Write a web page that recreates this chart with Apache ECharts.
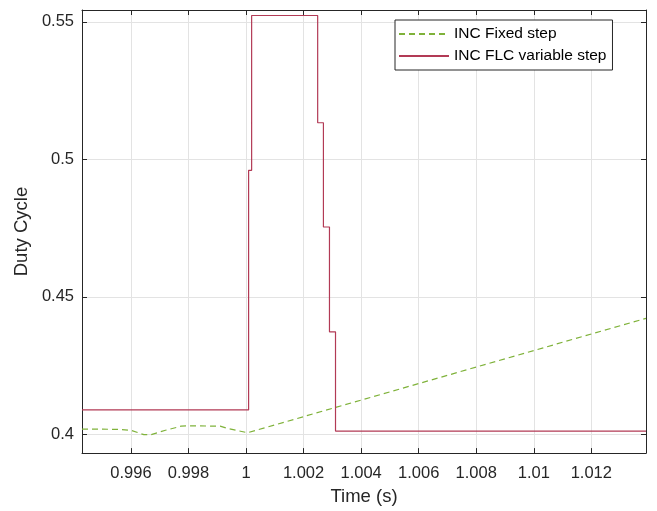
<!DOCTYPE html>
<html>
<head>
<meta charset="utf-8">
<script src="https://cdn.jsdelivr.net/npm/echarts@6/dist/echarts.min.js"></script>
<style>html,body{margin:0;padding:0;background:#fff;}#c{width:657px;height:511px;}</style>
</head>
<body>
<div id="c"></div>
<script>
// ---- data ----
const xTicks = [0.996, 0.998, 1, 1.002, 1.004, 1.006, 1.008, 1.01, 1.012];
const yTicks = [0.4, 0.45, 0.5, 0.55];
const fixedTime = [0.9943, 0.9950, 0.9956, 0.9960, 0.99645, 0.9967, 0.9972, 0.99775, 0.9980, 0.9991, 0.99935, 1.00005, 1.0139];
const fixedDuty = [0.4019, 0.4019, 0.4018, 0.4015, 0.3999, 0.3999, 0.4015, 0.4030, 0.4031, 0.4030, 0.4022, 0.4006, 0.4422];
const flcTime = [0.9943, 1.00009, 1.000195, 1.00249, 1.00269, 1.0029, 1.00311, 1.0139];
const flcDuty = [0.4089, 0.496, 0.5523, 0.5133, 0.4754, 0.4373, 0.4012, 0.4012];
const xRange = [0.9943, 1.0139];
const yRange = [0.3932, 0.5543];

const font = 'Liberation Sans, Arial, sans-serif';
const axisCol = '#262626';
const gridCol = '#e3e3e3';
const zip = (a, b) => a.map((v, i) => [v, b[i]]);
const fmtX = v => String(+v.toFixed(3));
const fmtY = v => String(+v.toFixed(2));

const chart = echarts.init(document.getElementById('c'));
chart.setOption({
  animation: false,
  backgroundColor: '#fff',
  grid: { left: 82, right: 11, top: 10, bottom: 57, containLabel: false },
  xAxis: [{
    type: 'value', min: xRange[0], max: xRange[1], position: 'bottom',
    name: 'Time (s)', nameLocation: 'middle', nameGap: 32,
    nameTextStyle: { fontFamily: font, fontSize: 18.5, color: axisCol },
    axisLine: { show: true, onZero: false, lineStyle: { color: axisCol, width: 1 } },
    axisTick: { show: true, inside: true, length: 5, customValues: xTicks, lineStyle: { color: axisCol } },
    axisLabel: { customValues: xTicks, formatter: fmtX, fontFamily: font, fontSize: 16.5, color: axisCol, margin: 12 },
    splitLine: { show: true, customValues: xTicks, lineStyle: { color: gridCol, width: 1 } }
  }, {
    type: 'value', min: xRange[0], max: xRange[1], position: 'top',
    axisLine: { show: true, onZero: false, lineStyle: { color: axisCol, width: 1 } },
    axisTick: { show: true, inside: true, length: 5, customValues: xTicks, lineStyle: { color: axisCol } },
    axisLabel: { show: false },
    splitLine: { show: false }
  }],
  yAxis: [{
    type: 'value', min: yRange[0], max: yRange[1], position: 'left',
    name: 'Duty Cycle', nameLocation: 'middle', nameGap: 51,
    nameTextStyle: { fontFamily: font, fontSize: 18.5, color: axisCol },
    axisLine: { show: true, onZero: false, lineStyle: { color: axisCol, width: 1 } },
    axisTick: { show: true, inside: true, length: 5, customValues: yTicks, lineStyle: { color: axisCol } },
    axisLabel: { customValues: yTicks, formatter: fmtY, fontFamily: font, fontSize: 16.5, color: axisCol, margin: 8 },
    splitLine: { show: true, customValues: yTicks, lineStyle: { color: gridCol, width: 1 } }
  }, {
    type: 'value', min: yRange[0], max: yRange[1], position: 'right',
    axisLine: { show: true, onZero: false, lineStyle: { color: axisCol, width: 1 } },
    axisTick: { show: true, inside: true, length: 5, customValues: yTicks, lineStyle: { color: axisCol } },
    axisLabel: { show: false },
    splitLine: { show: false }
  }],
  legend: {
    orient: 'vertical', left: 395, top: 20,
    padding: [6, 6, 6, 3], itemGap: 6, itemWidth: 50, itemHeight: 14,
    backgroundColor: '#fff', borderColor: axisCol, borderWidth: 1,
    itemStyle: { opacity: 0 },
    textStyle: { fontFamily: font, fontSize: 15.5, color: '#000' },
    data: ['INC Fixed step', 'INC FLC variable step']
  },
  series: [{
    name: 'INC Fixed step', type: 'line', data: zip(fixedTime, fixedDuty),
    showSymbol: false, symbol: 'none', clip: true,
    lineStyle: { color: '#7fb23a', width: 1.2, type: [6, 4] },
    itemStyle: { color: '#7fb23a' }
  }, {
    name: 'INC FLC variable step', type: 'line', step: 'end', data: zip(flcTime, flcDuty),
    showSymbol: false, symbol: 'none', clip: true,
    lineStyle: { color: '#b23a55', width: 1.2 },
    itemStyle: { color: '#b23a55' }
  }]
});
</script>
</body>
</html>
